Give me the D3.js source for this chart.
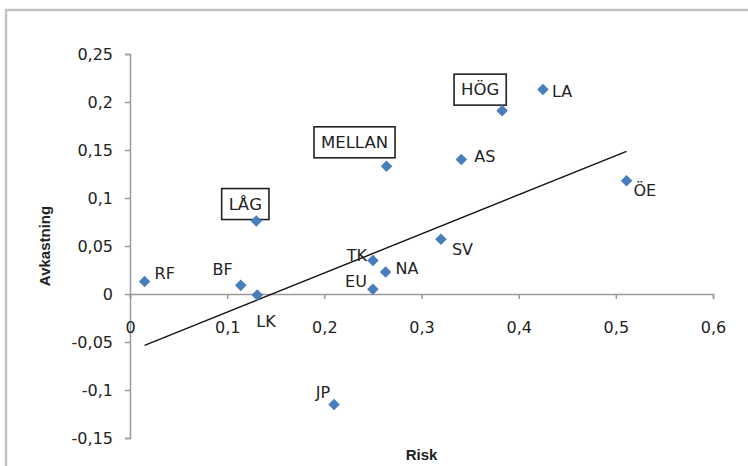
<!DOCTYPE html>
<html><head><meta charset="utf-8">
<script src="https://cdn.jsdelivr.net/npm/d3@7/dist/d3.min.js"></script>
<style>body{margin:0;background:#fff}svg{display:block}</style>
</head><body>
<svg id="c" width="748" height="466"></svg>
<script>
// ---- data ----
const names   = ["RF","BF","LK","TK","NA","EU","SV","AS","LA","ÖE","JP"];
const risk    = [0.015,0.114,0.131,0.250,0.263,0.250,0.320,0.341,0.425,0.511,0.210];
const avkast  = [0.013,0.009,-0.001,0.035,0.023,0.005,0.057,0.140,0.213,0.118,-0.115];
const portNames  = ["LÅG","MELLAN","HÖG"];
const portRisk   = [0.130,0.264,0.383];
const portAvkast = [0.076,0.133,0.191];
const xTicks = [0,0.1,0.2,0.3,0.4,0.5,0.6];
const yTicks = [-0.15,-0.1,-0.05,0,0.05,0.1,0.15,0.2,0.25];
const xTitle = "Risk", yTitle = "Avkastning";

// ---- label placement (style) ----
const labelPos = {
  "RF":{dx:10,dy:-8,a:"start"}, "BF":{dx:-8,dy:-16,a:"end"}, "LK":{dx:-1,dy:27,a:"start"},
  "TK":{dx:-6,dy:-5,a:"end"}, "NA":{dx:10,dy:-3,a:"start"}, "EU":{dx:-6,dy:-8,a:"end"},
  "SV":{dx:11,dy:10,a:"start"}, "AS":{dx:13,dy:-3,a:"start"}, "LA":{dx:9,dy:2,a:"start"},
  "ÖE":{dx:7,dy:10,a:"start"}, "JP":{dx:-4,dy:-12,a:"end"}
};
const boxPos = {"LÅG":{dx:-11,dy:-17},"MELLAN":{dx:-32,dy:-24},"HÖG":{dx:-22,dy:-21}};

const svg = d3.select("#c");
const font = "'DejaVu Sans', sans-serif";
const x = d3.scaleLinear().domain([0,0.6]).range([130,713]);
const y = d3.scaleLinear().domain([-0.15,0.25]).range([438,54]);
const fmt = d => d===0 ? "0" : String(d).replace(".",",");

// frame
svg.append("rect").attr("x",6).attr("y",10).attr("width",800).attr("height",600)
  .attr("fill","none").attr("stroke","#c4c4c4").attr("stroke-width",2.5);
svg.append("text").attr("x",88).attr("y",-3).attr("font-family",font).attr("font-size",16).attr("fill","#000").text("g");

// y axis
const yAx = svg.append("g").attr("transform",`translate(${x(0)},0)`)
  .call(d3.axisLeft(y).tickValues(yTicks).tickSize(5).tickPadding(12).tickFormat(fmt));
// x axis at y=0
const xAx = svg.append("g").attr("transform",`translate(0,${y(0)})`)
  .call(d3.axisBottom(x).tickValues(xTicks).tickSize(5).tickPadding(23).tickFormat(fmt));
[yAx,xAx].forEach(g=>{
  g.select(".domain").attr("stroke","#9a9a9a").attr("stroke-width",1.5);
  g.selectAll(".tick line").attr("stroke","#9a9a9a").attr("stroke-width",1.5);
  g.selectAll("text").attr("font-family",font).attr("font-size",16).attr("fill","#222");
});

// trendline (least squares on assets)
const mx = d3.mean(risk), my = d3.mean(avkast);
const sxy = d3.sum(risk.map((v,i)=>(v-mx)*(avkast[i]-my)));
const sxx = d3.sum(risk.map(v=>(v-mx)*(v-mx)));
const b = sxy/sxx, a0 = my - b*mx;
const [x0,x1] = d3.extent(risk);
svg.append("line").attr("x1",x(x0)).attr("y1",y(a0+b*x0)).attr("x2",x(x1)).attr("y2",y(a0+b*x1))
  .attr("stroke","#111").attr("stroke-width",1.4);

const allPts = names.map((n,i)=>({n,x:risk[i],y:avkast[i]}))
  .concat(portNames.map((n,i)=>({n,x:portRisk[i],y:portAvkast[i],box:true})));

// boxed labels
const bl = svg.append("g").selectAll("g").data(allPts.filter(d=>d.box)).join("g")
  .attr("transform",d=>`translate(${x(d.x)+boxPos[d.n].dx},${y(d.y)+boxPos[d.n].dy})`);
bl.append("text").attr("text-anchor","middle").attr("dominant-baseline","central")
  .attr("font-family",font).attr("font-size",16.5).attr("fill","#222").text(d=>d.n);
bl.each(function(){
  const g=d3.select(this), bb=g.select("text").node().getBBox();
  g.insert("rect","text").attr("x",bb.x-7).attr("y",-15.5).attr("width",bb.width+14).attr("height",31)
    .attr("fill","#fff").attr("stroke","#222").attr("stroke-width",1.6);
});

// markers
const diamond = d3.symbol().type(d3.symbolDiamond2).size(85);
svg.append("g").selectAll("path").data(allPts).join("path")
  .attr("d",diamond).attr("transform",d=>`translate(${x(d.x)},${y(d.y)})`)
  .attr("fill","#4a7ebb");

// asset labels
svg.append("g").selectAll("text").data(allPts.filter(d=>!d.box)).join("text")
  .attr("x",d=>x(d.x)+labelPos[d.n].dx).attr("y",d=>y(d.y)+labelPos[d.n].dy)
  .attr("text-anchor",d=>labelPos[d.n].a).attr("dominant-baseline","central")
  .attr("font-family",font).attr("font-size",16).attr("fill","#222").text(d=>d.n);

// titles
svg.append("text").attr("x",(x(0)+x(0.6))/2).attr("y",460).attr("text-anchor","middle")
  .attr("font-family","'Liberation Sans Narrow','Liberation Sans',sans-serif").attr("font-weight","bold")
  .attr("font-size",15).attr("fill","#222").text(xTitle);
svg.append("text").attr("transform",`translate(50,${(y(-0.15)+y(0.25))/2}) rotate(-90)`).attr("text-anchor","middle")
  .attr("font-family","'Liberation Sans Narrow','Liberation Sans',sans-serif").attr("font-weight","bold")
  .attr("font-size",15).attr("fill","#222").text(yTitle);
</script>
</body></html>
